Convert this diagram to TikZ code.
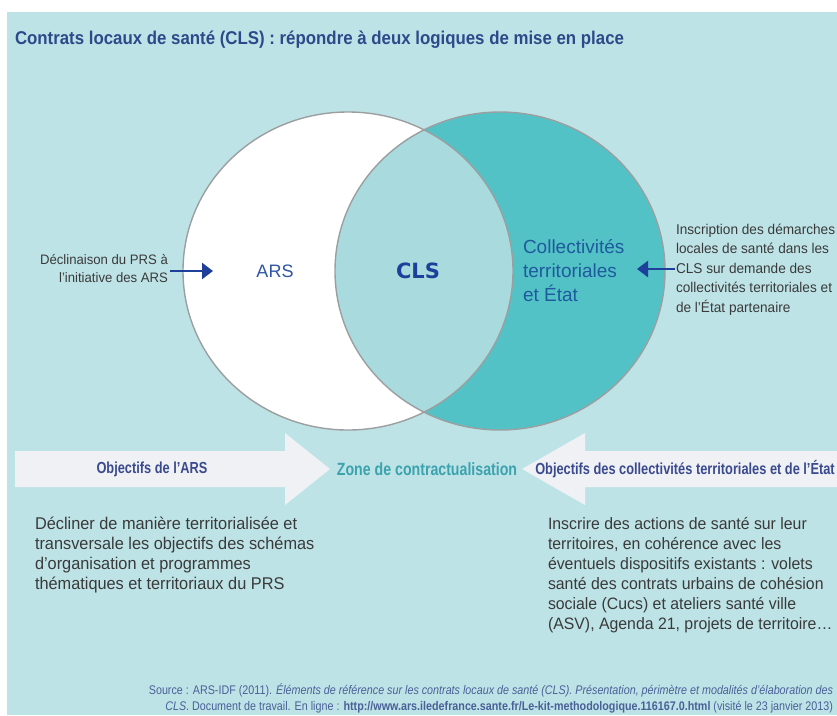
\documentclass[tikz,border=0pt]{standalone}
\usepackage{fontspec}
\setmainfont{Liberation Sans}
\newfontfamily\condf[FakeStretch=0.80]{Liberation Sans}
\newfontfamily\titlef[FakeStretch=0.91]{Liberation Sans}
\newfontfamily\srcf[FakeStretch=0.86]{Liberation Sans}
\newfontfamily\bodyf[FakeStretch=0.96]{Liberation Sans}
\newfontfamily\widef{DejaVu Sans}
\usetikzlibrary{arrows.meta}
\definecolor{bg}{HTML}{BEE3E6}
\definecolor{titleblue}{HTML}{2C4A8A}
\definecolor{lightteal}{HTML}{A9DBDE}
\definecolor{tealfill}{HTML}{52C2C7}
\definecolor{ringgray}{HTML}{9C9FA0}
\definecolor{arrowwhite}{HTML}{F0F1F5}
\definecolor{navy}{HTML}{3A4A8E}
\definecolor{zoneteal}{HTML}{3AA3AE}
\definecolor{bodygray}{HTML}{3A3A3A}
\definecolor{darkblue}{HTML}{1E3F9A}
\definecolor{arsblue}{HTML}{2F55A4}
\definecolor{colblue}{HTML}{1F5A9C}
\definecolor{srcblue}{HTML}{4A6098}
\tikzset{
  txt/.style={inner sep=0pt, outer sep=0pt},
  ring/.style={draw=ringgray, line width=1.4pt},
  bigarrow/.style={fill=arrowwhite, draw=none},
  smallarrow/.style={draw=darkblue, line width=2.6pt, -{Triangle[length=11pt,width=16pt]}},
  note/.style={txt, text=bodygray},
  body/.style={txt, text=bodygray, font=\bodyf\fontsize{17}{20}\selectfont, align=left},
  label/.style={txt, text=navy, font=\condf\bfseries\fontsize{16}{18}\selectfont},
}
\begin{document}
\begin{tikzpicture}[x=1pt, y=-1pt]
\useasboundingbox (0,0) rectangle (837,715);
\fill[white] (0,0) rectangle (837,715);
\fill[bg] (7,12) rectangle (837,715);

% title
\node[txt, anchor=base west, text=titleblue, font=\titlef\bfseries\fontsize{18.5}{20}\selectfont] (title) at (15,44.5)
  {Contrats locaux de santé (CLS) : répondre à deux logiques de mise en place};

% Venn
\coordinate (cl) at (348,271);
\coordinate (cr) at (500,271);
\fill[white] (cl) ellipse [x radius=165, y radius=159];
\fill[tealfill] (cr) ellipse [x radius=165, y radius=159];
\begin{scope}
  \clip (cl) ellipse [x radius=165, y radius=159];
  \fill[lightteal] (cr) ellipse [x radius=165, y radius=159];
\end{scope}
\draw[ring] (cl) ellipse [x radius=165, y radius=159];
\draw[ring] (cr) ellipse [x radius=165, y radius=159];

\node[txt, text=arsblue, font=\fontsize{18}{20}\selectfont] (ars) at (275,271) {ARS};
\node[txt, text=darkblue, font=\widef\bfseries\fontsize{21}{22}\selectfont] (cls) at (418,271) {CLS};
\node[txt, anchor=west, text=colblue, align=left, font=\fontsize{19}{24}\selectfont] (col) at (523,271)
  {Collectivités\\territoriales\\et État};

% side notes
\node[note, anchor=base east, align=right, font=\bodyf\fontsize{13.7}{18}\selectfont] (lnote) at (168,282)
  {Déclinaison du PRS à\\l’initiative des ARS};
\node[note, anchor=base west, align=left, font=\bodyf\fontsize{14.2}{19.5}\selectfont] (rnote) at (676,312)
  {Inscription des démarches\\locales de santé dans les\\CLS sur demande des\\collectivités territoriales et\\de l’État partenaire};
\coordinate (la1) at (170,271);
\coordinate (la2) at (213,271);
\coordinate (ra1) at (675,269);
\coordinate (ra2) at (637,269);
\draw[smallarrow] (la1) -- (la2);
\draw[smallarrow] (ra1) -- (ra2);

% big arrows
\fill[bigarrow] (15,451) -- (285,451) -- (285,433) -- (330,469) -- (285,505) -- (285,487) -- (15,487) -- cycle;
\fill[bigarrow] (837,451) -- (585,451) -- (585,433) -- (522,469) -- (585,505) -- (585,487) -- (837,487) -- cycle;
\node[label] (objars) at (152,469) {Objectifs de l’ARS};
\node[label, text=zoneteal, font=\condf\bfseries\fontsize{17.7}{18}\selectfont] (zone) at (427,469) {Zone de contractualisation};
\node[label] (objcol) at (685,469) {Objectifs des collectivités territoriales et de l’État};

% body texts
\node[body, anchor=base west] (bl) at (35,589.5)
  {Décliner de manière territorialisée et\\transversale les objectifs des schémas\\d’organisation et programmes\\thématiques et territoriaux du PRS};
\node[body, anchor=base west, font=\bodyf\fontsize{16.5}{20}\selectfont] (br) at (548,629.5)
  {Inscrire des actions de santé sur leur\\territoires, en cohérence avec les\\éventuels dispositifs existants : volets\\santé des contrats urbains de cohésion\\sociale (Cucs) et ateliers santé ville\\(ASV), Agenda 21, projets de territoire…};

% source
\node[txt, anchor=base east, align=right, text=srcblue, font=\srcf\fontsize{12.5}{16}\selectfont] (src) at (833,710)
  {Source : ARS-IDF (2011). \textit{Éléments de référence sur les contrats locaux de santé (CLS). Présentation, périmètre et modalités d’élaboration des}\\
   \textit{CLS}. Document de travail. En ligne : \textbf{http://www.ars.iledefrance.sante.fr/Le-kit-methodologique.116167.0.html} (visité le 23 janvier 2013)};
\end{tikzpicture}
\end{document}
